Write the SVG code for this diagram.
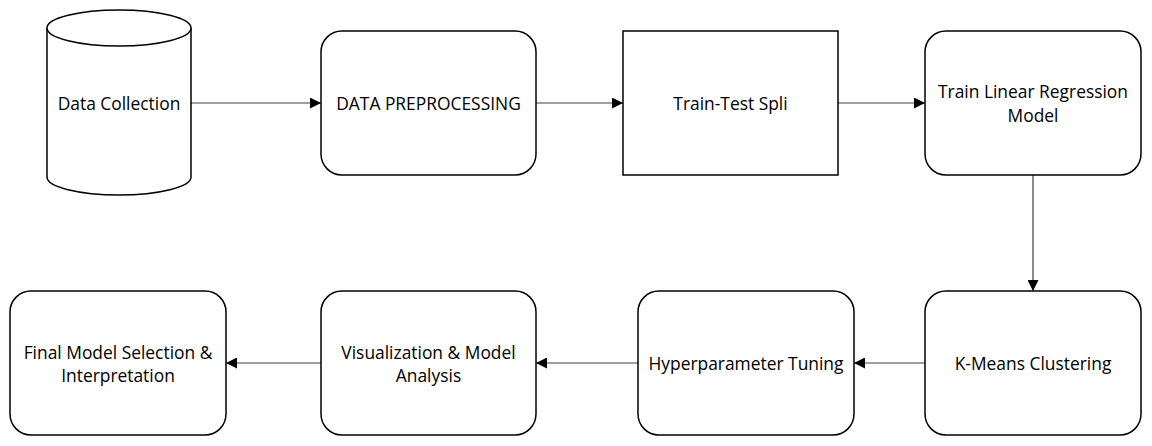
<svg xmlns="http://www.w3.org/2000/svg" width="1152" height="446" viewBox="0 0 1152 446">
<style>
.box{fill:#fff;stroke:#000;stroke-width:1.5}
.lbl{font-family:"Open Sans","Liberation Sans",sans-serif;font-size:17.4px;fill:#000;text-anchor:middle;dominant-baseline:central}
.conn{stroke:#404040;stroke-width:1.2;fill:none;marker-end:url(#ah)}
</style>
<defs>
<marker id="ah" viewBox="0 0 10 10" refX="10" refY="5" markerWidth="11" markerHeight="11" markerUnits="userSpaceOnUse" orient="auto">
<path d="M0,0 L10,5 L0,10 z" fill="#000"/>
</marker>
</defs>
<rect width="1152" height="446" fill="#fff"/>
<g id="connectors">
<line class="conn" x1="191" y1="103" x2="321" y2="103"/>
<line class="conn" x1="536" y1="103" x2="623" y2="103"/>
<line class="conn" x1="838" y1="103" x2="925" y2="103"/>
<line class="conn" x1="1033" y1="175" x2="1033" y2="291"/>
<line class="conn" x1="925" y1="363" x2="854" y2="363"/>
<line class="conn" x1="638" y1="363" x2="536" y2="363"/>
<line class="conn" x1="321" y1="363" x2="226" y2="363"/>
</g>
<g id="data-collection">
<path class="box" d="M47,28 A72,18 0 0 1 191,28 L191,177 A72,18 0 0 1 47,177 Z"/>
<path class="box" d="M47,28 A72,18 0 0 0 191,28" fill="none"/>
<text class="lbl" x="119" y="103">Data Collection</text>
</g>
<g id="data-preprocessing">
<rect class="box" x="321" y="31" width="215" height="144" rx="21"/>
<text class="lbl" x="428.5" y="103">DATA PREPROCESSING</text>
</g>
<g id="train-test-split">
<rect class="box" x="623" y="31" width="215" height="144"/>
<text class="lbl" x="730.5" y="103">Train-Test Spli</text>
</g>
<g id="train-linear-regression">
<rect class="box" x="925" y="31" width="216" height="144" rx="21"/>
<text class="lbl" x="1033" y="91">Train Linear Regression</text>
<text class="lbl" x="1033" y="115">Model</text>
</g>
<g id="k-means">
<rect class="box" x="925" y="291" width="216" height="144" rx="21"/>
<text class="lbl" x="1033" y="363">K-Means Clustering</text>
</g>
<g id="hyperparameter-tuning">
<rect class="box" x="638" y="291" width="216" height="144" rx="21"/>
<text class="lbl" x="746" y="363">Hyperparameter Tuning</text>
</g>
<g id="visualization">
<rect class="box" x="321" y="291" width="215" height="144" rx="21"/>
<text class="lbl" x="428.5" y="352">Visualization &amp; Model</text>
<text class="lbl" x="428.5" y="375">Analysis</text>
</g>
<g id="final-model">
<rect class="box" x="10" y="291" width="216" height="144" rx="21"/>
<text class="lbl" x="118" y="352">Final Model Selection &amp;</text>
<text class="lbl" x="118" y="375">Interpretation</text>
</g>
</svg>
